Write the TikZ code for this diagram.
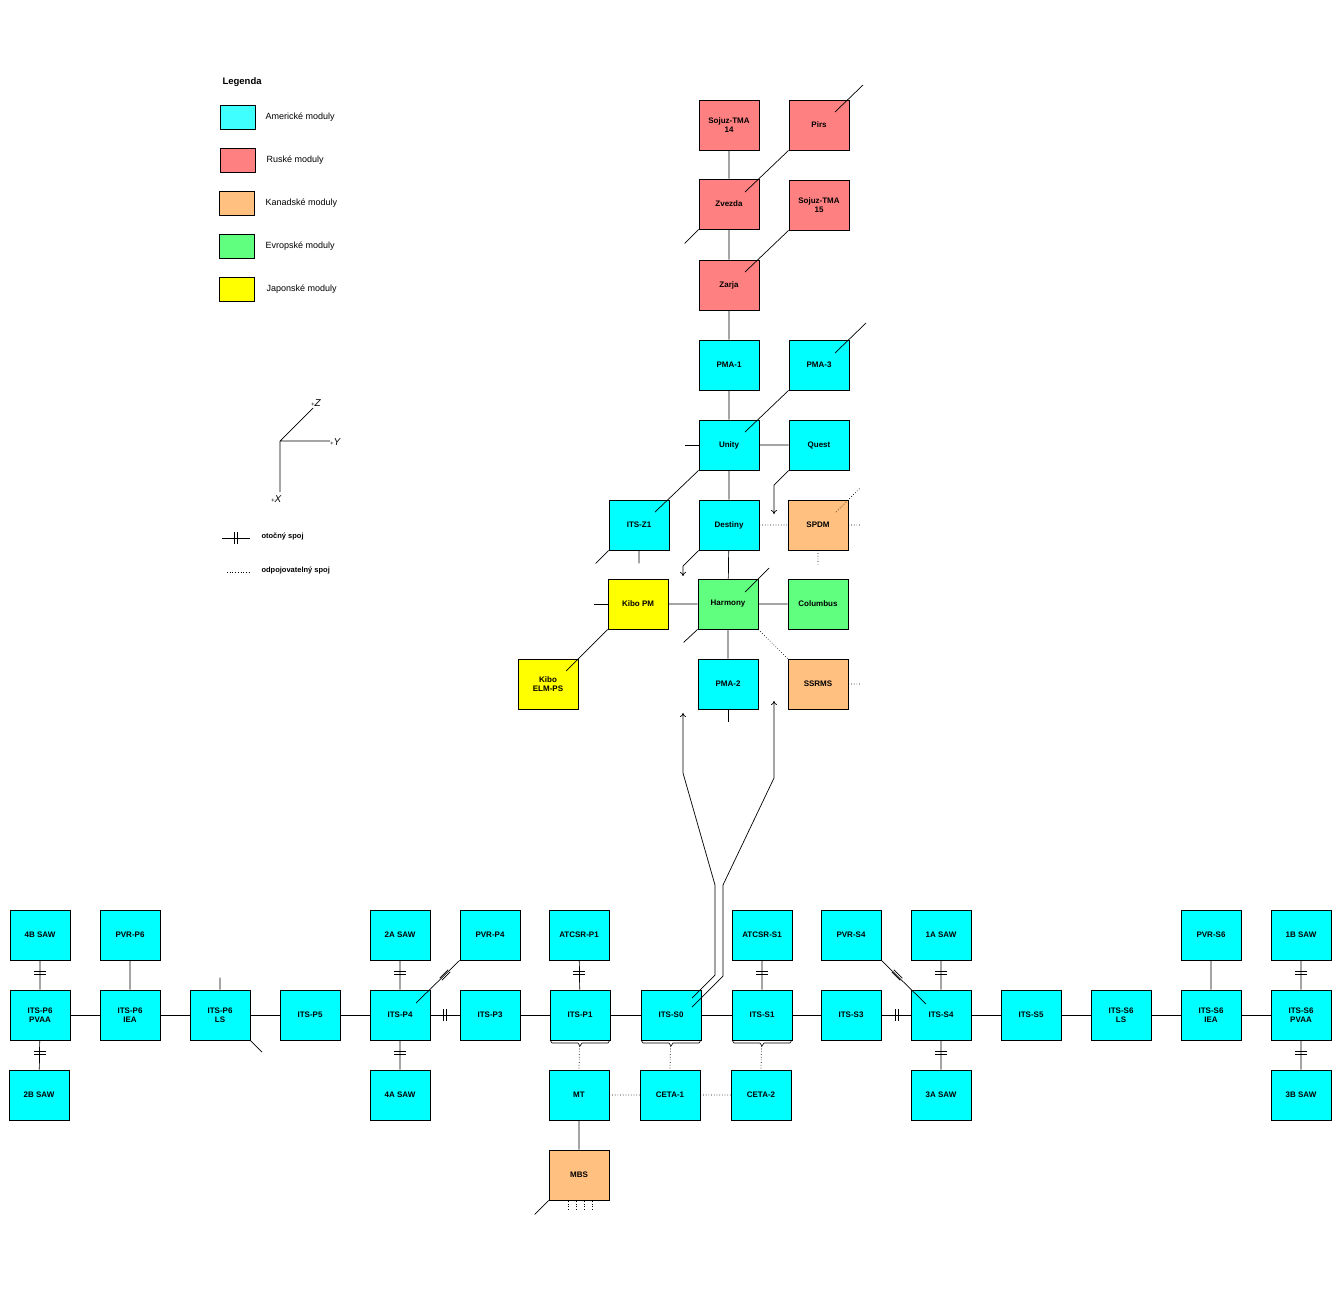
\documentclass[tikz,border=0pt]{standalone}
\usepackage{fontspec}
\setmainfont{Liberation Sans}
\usetikzlibrary{calc,arrows.meta}
\definecolor{cus}{HTML}{00FFFF}
\definecolor{cusl}{HTML}{40FFFF}
\definecolor{rus}{HTML}{FF8080}
\definecolor{can}{HTML}{FFC080}
\definecolor{eur}{HTML}{60FF80}
\definecolor{jap}{HTML}{FFFF00}
\newcommand\bx[5]{\node[mod,fill=#4] (#1) at ({#2+30},{#3+25}) {#5};}
\newcommand\rv[2]{\draw[ln] ({#1-6},{#2-1.5})--({#1+6},{#2-1.5}) ({#1-6},{#2+1.5})--({#1+6},{#2+1.5});}
\newcommand\rh[2]{\draw[ln] ({#1-1.5},{#2-6})--({#1-1.5},{#2+6}) ({#1+1.5},{#2-6})--({#1+1.5},{#2+6});}
\newcommand\rd[3]{\begin{scope}[shift={(#1,#2)},rotate=#3]\draw[ln] (-6,-1.5)--(6,-1.5) (-6,1.5)--(6,1.5);\end{scope}}
\begin{document}
\begin{tikzpicture}[x=1pt,y=-1pt,
 mod/.style={draw,line width=0.8pt,minimum width=60pt,minimum height=50pt,inner sep=0pt,align=center,font=\fontsize{8}{8.5}\selectfont\bfseries},
 ln/.style={line width=0.7pt},
 dt/.style={line width=0.7pt,dotted},
 lg/.style={draw,line width=0.8pt,minimum width=35pt,minimum height=24pt,inner sep=0pt},
 lt/.style={anchor=west,font=\fontsize{9}{10}\selectfont},
 ar/.style={ln,-{To[length=4pt,width=6pt]}}]
\useasboundingbox (0,0) rectangle (1341,1300);
% legend
\node[anchor=west,font=\fontsize{9.5}{10}\selectfont\bfseries] (leg) at (219,82) {Legenda};
\node[lg,fill=cusl] (l1) at (237.5,117) {}; \node[lt] (t1) at (262,117) {Americké moduly};
\node[lg,fill=rus] (l2) at (237.5,160) {}; \node[lt] (t2) at (263,160) {Ruské moduly};
\node[lg,fill=can] (l3) at (236.5,203) {}; \node[lt] (t3) at (262,203) {Kanadské moduly};
\node[lg,fill=eur] (l4) at (236.5,246) {}; \node[lt] (t4) at (262,246) {Evropské moduly};
\node[lg,fill=jap] (l5) at (236.5,289) {}; \node[lt] (t5) at (263,289) {Japonské moduly};
% axes
\coordinate (o) at (280,441);
\coordinate (ay) at (330,441); \coordinate (az) at (313,408); \coordinate (ax) at (280,492);
\draw[ln] (o)--(ay) (o)--(az) (o)--(ax);
\node[anchor=west,inner sep=0pt,font=\fontsize{9}{10}\selectfont\itshape] (ty) at (330,442) {\fontsize{6}{6}\selectfont+\fontsize{10}{10}\selectfont Y};
\node[anchor=west,inner sep=0pt,font=\fontsize{9}{10}\selectfont\itshape] (tz) at (311,403) {\fontsize{6}{6}\selectfont+\fontsize{10}{10}\selectfont Z};
\node[anchor=west,inner sep=0pt,font=\fontsize{9}{10}\selectfont\itshape] (tx) at (271,499) {\fontsize{6}{6}\selectfont+\fontsize{10}{10}\selectfont X};
\coordinate (r1) at (222,538); \coordinate (r2) at (250,538);
\draw[ln] (r1)--(r2); \rh{236}{538}
\node[lt,font=\fontsize{7.5}{8}\selectfont\bfseries] (tr) at (258,536) {otočný spoj};
\coordinate (d1) at (227,572); \coordinate (d2) at (250,572);
\draw[dt] (d1)--(d2);
\node[lt,font=\fontsize{7.5}{8}\selectfont\bfseries] (td) at (258,571) {odpojovatelný spoj};
% upper modules
\bx{soj14}{699}{100}{rus}{Sojuz-TMA\\14}
\bx{zvezda}{699}{179}{rus}{Zvezda}
\bx{zarja}{699}{260}{rus}{Zarja}
\bx{pma1}{699}{340}{cus}{PMA-1}
\bx{unity}{699}{420}{cus}{Unity}
\bx{destiny}{699}{500}{cus}{Destiny}
\bx{harmony}{698}{579}{eur}{Harmony}
\bx{pma2}{698}{659}{cus}{PMA-2}
\bx{pirs}{789}{100}{rus}{Pirs}
\bx{soj15}{789}{180}{rus}{Sojuz-TMA\\15}
\bx{pma3}{789}{340}{cus}{PMA-3}
\bx{quest}{789}{420}{cus}{Quest}
\bx{spdm}{788}{500}{can}{SPDM}
\bx{columbus}{788}{579}{eur}{Columbus}
\bx{ssrms}{788}{659}{can}{SSRMS}
\bx{z1}{609}{500}{cus}{ITS-Z1}
\bx{kibopm}{608}{579}{jap}{Kibo PM}
\bx{kiboelm}{518}{659}{jap}{Kibo\\ELM-PS}
\draw[ln] (soj14)--(zvezda) (zvezda)--(zarja) (zarja)--(pma1) (pma1)--(unity) (unity)--(destiny) (destiny)--(harmony) (harmony)--(pma2)
 (unity)--(quest) (harmony)--(kibopm) (harmony)--(columbus);
\draw[ln] (pma2.south)--++(0,13) (unity.west)--++(-14,0) (kibopm.west)--++(-14,0);
\draw[ln] (835,112)--(863,85) (745,192)--(pirs.south west) (zvezda.south west)--++(-14,14)
 (soj15.south west)--(745,272) (835,353)--(866,323) (745,432)--(pma3.south west)
 (unity.south west)--(655,512) (z1.south west)--++(-13,13) (z1.south)--++(0,13)
 (745,592)--(769,568) (harmony.south west)--++(-14,13) (kibopm.south west)--(566,671);
\draw[ar] (quest.south west)--(774,485)--(774,514);
\draw[ar] (destiny.south west)--(683,566)--(683,576);
\draw[dt] (destiny)--(spdm) (spdm.east)--++(12,0) (spdm.south)--++(0,14) (836,512)--(860,488)
 (harmony.south east)--(ssrms.north west) (ssrms.east)--++(13,0);
% lower modules
\bx{p6pvaa}{10}{990}{cus}{ITS-P6\\PVAA}
\bx{p6iea}{100}{990}{cus}{ITS-P6\\IEA}
\bx{p6ls}{190}{990}{cus}{ITS-P6\\LS}
\bx{p5}{280}{990}{cus}{ITS-P5}
\bx{p4}{370}{990}{cus}{ITS-P4}
\bx{p3}{460}{990}{cus}{ITS-P3}
\bx{p1}{550}{990}{cus}{ITS-P1}
\bx{s0}{641}{990}{cus}{ITS-S0}
\bx{s1}{732}{990}{cus}{ITS-S1}
\bx{s3}{821}{990}{cus}{ITS-S3}
\bx{s4}{911}{990}{cus}{ITS-S4}
\bx{s5}{1001}{990}{cus}{ITS-S5}
\bx{s6ls}{1091}{990}{cus}{ITS-S6\\LS}
\bx{s6iea}{1181}{990}{cus}{ITS-S6\\IEA}
\bx{s6pvaa}{1271}{990}{cus}{ITS-S6\\PVAA}
\bx{b4}{10}{910}{cus}{4B SAW}
\bx{pvrp6}{100}{910}{cus}{PVR-P6}
\bx{a2}{370}{910}{cus}{2A SAW}
\bx{pvrp4}{460}{910}{cus}{PVR-P4}
\bx{atp1}{549}{910}{cus}{ATCSR-P1}
\bx{ats1}{732}{910}{cus}{ATCSR-S1}
\bx{pvrs4}{821}{910}{cus}{PVR-S4}
\bx{a1}{911}{910}{cus}{1A SAW}
\bx{pvrs6}{1181}{910}{cus}{PVR-S6}
\bx{b1}{1271}{910}{cus}{1B SAW}
\bx{b2}{9}{1070}{cus}{2B SAW}
\bx{a4}{370}{1070}{cus}{4A SAW}
\bx{mt}{549}{1070}{cus}{MT}
\bx{ceta1}{640}{1070}{cus}{CETA-1}
\bx{ceta2}{731}{1070}{cus}{CETA-2}
\bx{a3}{911}{1070}{cus}{3A SAW}
\bx{b3}{1271}{1070}{cus}{3B SAW}
\bx{mbs}{549}{1150}{can}{MBS}
\draw[ln] (p6pvaa)--(p6iea) (p6iea)--(p6ls) (p6ls)--(p5) (p5)--(p4) (p4)--(p3) (p3)--(p1) (p1)--(s0) (s0)--(s1) (s1)--(s3)
 (s3)--(s4) (s4)--(s5) (s5)--(s6ls) (s6ls)--(s6iea) (s6iea)--(s6pvaa);
\rh{445}{1015} \rh{897}{1015}
\draw[ln] (b4)--(p6pvaa) (p6pvaa)--(b2) (pvrp6)--(p6iea) (a2)--(p4) (p4)--(a4) (atp1)--(p1) (ats1)--(s1)
 (a1)--(s4) (s4)--(a3) (b1)--(s6pvaa) (s6pvaa)--(b3) (pvrs6)--(s6iea) (mt)--(mbs);
\rv{40}{973} \rv{40}{1053} \rv{400}{973} \rv{400}{1053} \rv{579}{973} \rv{762}{973}
\rv{941}{973} \rv{941}{1053} \rv{1301}{973} \rv{1301}{1053}
\draw[ln] (p6ls.north)--++(0,-12) (p6ls.south east)--(262,1052);
\draw[ln] (pvrp4.south west)--(416,1003); \rd{445}{975}{45}
\draw[ln] (pvrs4.south east)--(926,1004); \rd{897}{975}{-45}
% brackets
\foreach \b/\xa in {p1/550,s0/641,s1/732}{
 \draw[line width=0.6pt] (\xa,1040)--(\xa+2,1043)--(\xa+28,1043)--(\xa+30,1046)--(\xa+32,1043)--(\xa+58,1043)--(\xa+60,1040);}
\draw[dt] (579.5,1046)--(mt.north) (670.5,1046)--(ceta1.north) (761.5,1046)--(ceta2.north)
 (mt)--(ceta1) (ceta1)--(ceta2);
\draw[ln] (mbs.south west)--++(-14,14);
\foreach \xx in {568,576,584,592}{\draw[dt] (\xx,1201)--(\xx,1211);}
% long arrows
\draw[ar] (692,998)--(715,975)--(715,885)--(683,773)--(683,713);
\draw[ar] (692,1007)--(723,976)--(723,885)--(774,778)--(774,701);
\end{tikzpicture}
\end{document}
